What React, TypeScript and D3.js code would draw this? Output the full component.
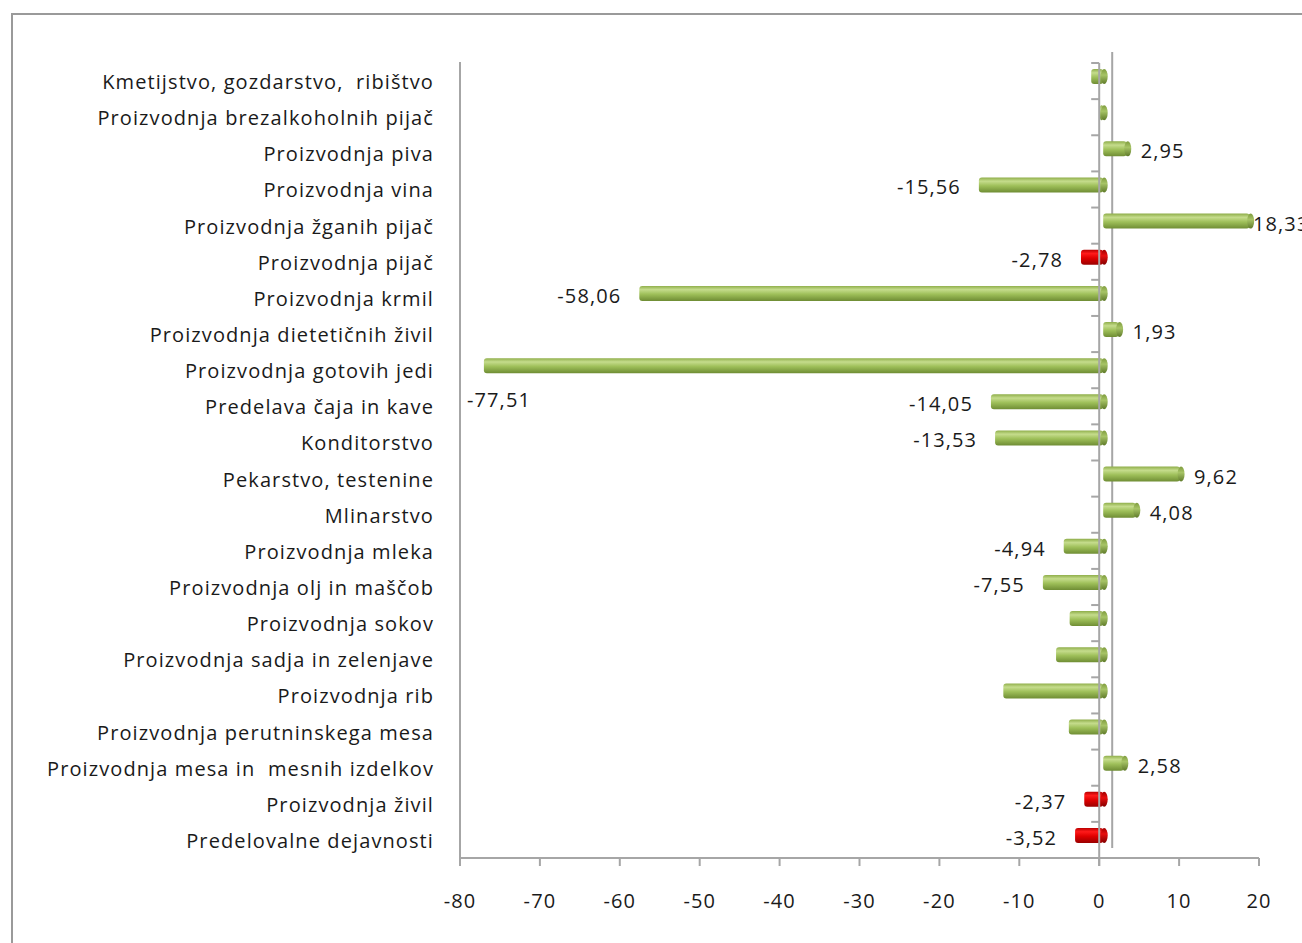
import * as d3 from "d3";

const categories = [
    "Kmetijstvo, gozdarstvo,  ribištvo",
    "Proizvodnja brezalkoholnih pijač",
    "Proizvodnja piva",
    "Proizvodnja vina",
    "Proizvodnja žganih pijač",
    "Proizvodnja pijač",
    "Proizvodnja krmil",
    "Proizvodnja dietetičnih živil",
    "Proizvodnja gotovih jedi",
    "Predelava čaja in kave",
    "Konditorstvo",
    "Pekarstvo, testenine",
    "Mlinarstvo",
    "Proizvodnja mleka",
    "Proizvodnja olj in maščob",
    "Proizvodnja sokov",
    "Proizvodnja sadja in zelenjave",
    "Proizvodnja rib",
    "Proizvodnja perutninskega mesa",
    "Proizvodnja mesa in  mesnih izdelkov",
    "Proizvodnja živil",
    "Predelovalne dejavnosti",
];

const values = [
    -1.5, -0.4, 2.95, -15.56, 18.33, -2.78, -58.06, 1.93, -77.51, -14.05, -13.53,
    9.62, 4.08, -4.94, -7.55, -4.2, -5.9, -12.5, -4.3, 2.58, -2.37, -3.52,
];

// rows whose value is shown as a data label
const labelled = [
    false, false, true, true, true, true, true, true, true, true, true,
    true, true, true, true, false, false, false, false, true, true, true,
];

// aggregate rows drawn in red
const highlighted = [
    false, false, false, false, false, true, false, false, false, false, false,
    false, false, false, false, false, false, false, false, false, true, true,
];

const xTicks = [-80, -70, -60, -50, -40, -30, -20, -10, 0, 10, 20];

const fmt = (v: number) => v.toFixed(2).replace(".", ",");

export default function App() {
    const W = 1302;
    const H = 943;
    const margin = { top: 63, left: 460, right: 43, bottom: 85 };

    const x = d3
        .scaleLinear()
        .domain([-80, 20])
        .range([margin.left, W - margin.right]);

    const y = d3
        .scaleBand()
        .domain(categories)
        .range([margin.top, H - margin.bottom])
        .padding(0);

    const depth = 5; // 3D shift of the bars
    const barH = 15;
    const axisColor = "#a6a6a6";
    const font = "'Open Sans', Lato, sans-serif";
    const fontSize = 20;
    const spacing = 1.1;
    const x0 = x(0);
    const bottom = H - margin.bottom;

    return (
        <div style={{ position: "absolute", left: 0, top: 0 }}>
            <svg width={W} height={H} style={{ display: "block", background: "#fff" }}>
                <defs>
                    <linearGradient id="gGreen" x1="0" y1="0" x2="0" y2="1">
                        <stop offset="0" stopColor="#8fae4a" />
                        <stop offset="0.25" stopColor="#c5dc8c" />
                        <stop offset="0.55" stopColor="#9fc05a" />
                        <stop offset="1" stopColor="#6f8d34" />
                    </linearGradient>
                    <linearGradient id="gRed" x1="0" y1="0" x2="0" y2="1">
                        <stop offset="0" stopColor="#b80000" />
                        <stop offset="0.25" stopColor="#ff1a1a" />
                        <stop offset="0.55" stopColor="#e00000" />
                        <stop offset="1" stopColor="#9a0000" />
                    </linearGradient>
                    <linearGradient id="gGreenCap" x1="0" y1="0" x2="0" y2="1">
                        <stop offset="0" stopColor="#7f9c3e" />
                        <stop offset="0.4" stopColor="#a7c466" />
                        <stop offset="1" stopColor="#5f7a2a" />
                    </linearGradient>
                    <linearGradient id="gRedCap" x1="0" y1="0" x2="0" y2="1">
                        <stop offset="0" stopColor="#a00000" />
                        <stop offset="0.4" stopColor="#e81010" />
                        <stop offset="1" stopColor="#800000" />
                    </linearGradient>
                </defs>

                {/* chart frame */}
                <rect x={12} y={14} width={W} height={H} fill="none" stroke="#9a9a9a" strokeWidth={2} />

                {/* back wall edge */}
                <line x1={x0 + 13} x2={x0 + 13} y1={margin.top - 11} y2={bottom - 10} stroke={axisColor} strokeWidth={2} />

                {/* left edge */}
                <line x1={margin.left} x2={margin.left} y1={margin.top - 1} y2={bottom} stroke={axisColor} strokeWidth={2} />

                {/* value axis */}
                <line x1={margin.left - 1} x2={x(20)} y1={bottom} y2={bottom} stroke={axisColor} strokeWidth={2} />
                {xTicks.map((t) => (
                    <g key={t}>
                        <line x1={x(t)} x2={x(t)} y1={bottom} y2={bottom + 8} stroke={axisColor} strokeWidth={2} />
                        <text
                            x={x(t)}
                            y={bottom + 43}
                            dy="0.35em"
                            textAnchor="middle"
                            fontFamily={font}
                            fontSize={fontSize}
                            letterSpacing={spacing}
                            fill="#1a1a1a"
                        >
                            {t}
                        </text>
                    </g>
                ))}

                {/* bars */}
                {categories.map((c, i) => {
                    const v = values[i];
                    const cy = y(c)! + y.bandwidth() / 2 - 4.5;
                    const left = Math.min(x(v), x0) + depth;
                    const right = Math.max(x(v), x0) + depth;
                    const red = highlighted[i];
                    return (
                        <g key={c}>
                            <rect
                                x={left - 1}
                                y={cy - barH / 2}
                                width={Math.max(right - left, 2)}
                                height={barH}
                                rx={3}
                                fill={red ? "url(#gRed)" : "url(#gGreen)"}
                            />
                            <ellipse
                                cx={right}
                                cy={cy}
                                rx={3.5}
                                ry={barH / 2}
                                fill={red ? "url(#gRedCap)" : "url(#gGreenCap)"}
                            />
                        </g>
                    );
                })}

                {/* category axis at zero */}
                <line x1={x0} x2={x0} y1={margin.top} y2={bottom + 8} stroke={axisColor} strokeWidth={2} />
                {categories.map((c) => (
                    <line
                        key={c}
                        x1={x0 - 8}
                        x2={x0}
                        y1={y(c)!}
                        y2={y(c)!}
                        stroke={axisColor}
                        strokeWidth={2}
                    />
                ))}

                {/* category labels */}
                {categories.map((c) => (
                    <text
                        key={c}
                        x={margin.left - 26}
                        y={y(c)! + y.bandwidth() / 2 + 1}
                        dy="0.35em"
                        textAnchor="end"
                        fontFamily={font}
                        fontSize={fontSize}
                        letterSpacing={spacing}
                        fill="#1a1a1a"
                        style={{ whiteSpace: "pre" }}
                    >
                        {c}
                    </text>
                ))}

                {/* data labels */}
                {categories.map((c, i) => {
                    if (!labelled[i]) return null;
                    const v = values[i];
                    const cy = y(c)! + y.bandwidth() / 2 - 2;
                    const txt = fmt(v);
                    const approxW = txt.length * 12;
                    let lx: number;
                    let ly = cy;
                    let anchor: "start" | "end" = "start";
                    if (v >= 0) {
                        lx = Math.min(x(v) + 18, x(20) - 6);
                    } else if (x(v) - 14 - approxW < margin.left) {
                        lx = margin.left + 7;
                        ly = cy + 32;
                    } else {
                        lx = x(v) - 14;
                        anchor = "end";
                    }
                    return (
                        <text
                            key={c}
                            x={lx}
                            y={ly}
                            dy="0.35em"
                            textAnchor={anchor}
                            fontFamily={font}
                            fontSize={fontSize}
                            letterSpacing={spacing}
                            fill="#1a1a1a"
                        >
                            {txt}
                        </text>
                    );
                })}
            </svg>
        </div>
    );
}
